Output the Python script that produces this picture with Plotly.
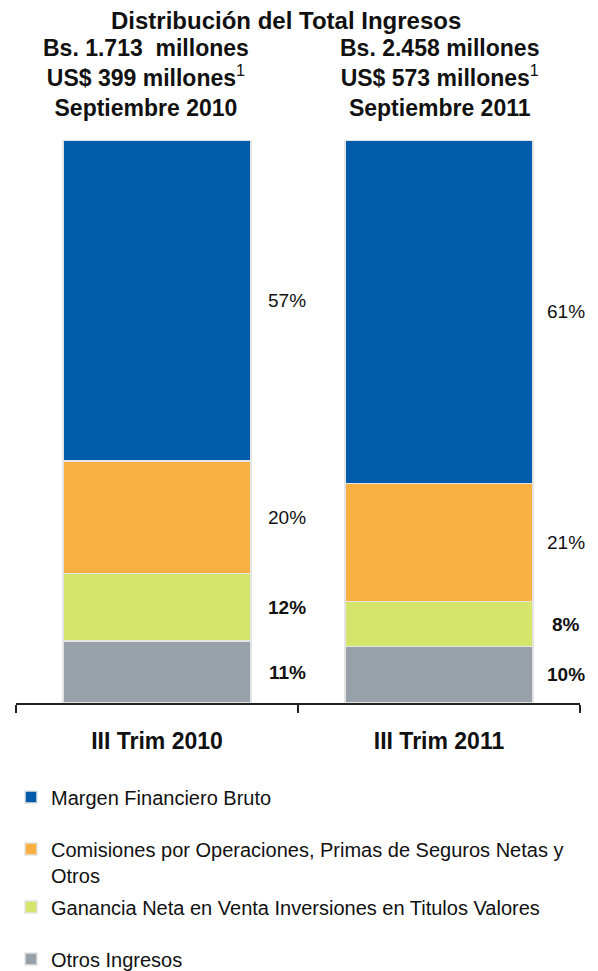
import plotly.graph_objects as go

categories = ["III Trim 2010", "III Trim 2011"]
series_names = [
    "Margen Financiero Bruto",
    "Comisiones por Operaciones, Primas de Seguros Netas y<br>Otros",
    "Ganancia Neta en Venta Inversiones en Titulos Valores",
    "Otros Ingresos",
]
margen = [57, 61]
comisiones = [20, 21]
ganancia = [12, 8]
otros = [11, 10]
header_lines = [
    ["Bs. 1.713  millones", "US$ 399 millones", "Septiembre 2010"],
    ["Bs. 2.458 millones", "US$ 573 millones", "Septiembre 2011"],
]
footnote_mark = "1"
title_text = "Distribución del Total Ingresos"

colors = ["#005BAA", "#F8B041", "#D5E46B", "#98A1A9"]
label_bold = [False, False, True, True]

FONT = "Liberation Sans, Arial, sans-serif"

# Page body has an 8px margin; the figure is sized and placed to compensate.
W, H = 590, 963
L, R, T, B = 8, 18, 132, 268
PW = W - L - R          # 564
PH = H - T - B          # 563


def px_x(px):           # page x -> paper x
    return (px - 16) / PW


def px_y(py):           # page y -> paper y
    return (703 - py) / PH


stack = [(otros, 3), (ganancia, 2), (comisiones, 1), (margen, 0)]
legend_ids = ["legend", "legend2", "legend3", "legend4"]

fig = go.Figure()
for vals, idx in stack:
    fig.add_trace(go.Bar(
        x=categories, y=vals, name=series_names[idx],
        marker=dict(color=colors[idx], line=dict(color="#e4e4e4", width=1.5)),
        legend=legend_ids[idx],
        hoverinfo="skip",
    ))

# value labels at segment midpoints
base = [0, 0]
for vals, idx in stack:
    for i, c in enumerate(categories):
        mid = base[i] + vals[i] / 2
        txt = f"{vals[i]}%"
        if label_bold[idx]:
            txt = f"<b>{txt}</b>"
        fig.add_annotation(
            x=c, y=mid, xref="x", yref="y", text=txt, showarrow=False,
            xshift=130 if i == 0 else 127,
            font=dict(family=FONT, size=19, color="#111"),
        )
    base = [base[i] + vals[i] for i in range(2)]

# header blocks
header_x = [146, 439]
for i in range(2):
    l1, l2, l3 = header_lines[i]
    txt = f"<b>{l1}</b><br><b>{l2}</b><sup>{footnote_mark}</sup><br><b>{l3}</b>"
    fig.add_annotation(
        x=px_x(header_x[i]), y=px_y(78), xref="paper", yref="paper",
        text=txt, showarrow=False, xanchor="center", yanchor="middle", align="center",
        font=dict(family=FONT, size=23, color="#111"),
    )

fig.add_annotation(
    x=px_x(286), y=px_y(20), xref="paper", yref="paper",
    text=f"<b>{title_text}</b>", showarrow=False, xanchor="center", yanchor="middle",
    font=dict(family=FONT, size=24, color="#111"),
)

legend_y = [797, 862, 907, 959]
legend_common = dict(
    x=px_x(11), xanchor="left", yanchor="middle",
    font=dict(family=FONT, size=20, color="#111"),
    bgcolor="rgba(0,0,0,0)", valign="top",
)
layout_legends = {}
for k, lid in enumerate(legend_ids):
    layout_legends[lid] = dict(legend_common, y=px_y(legend_y[k]))

fig.update_layout(
    width=W, height=H,
    margin=dict(l=L, r=R, t=T, b=B, autoexpand=False),
    barmode="stack", bargap=0.333,
    plot_bgcolor="white", paper_bgcolor="white",
    font=dict(family=FONT, size=16, color="#111"),
    showlegend=True,
    **layout_legends,
)
fig.update_xaxes(
    type="category", range=[-0.5, 1.5], tickson="boundaries",
    ticks="outside", ticklen=8, tickcolor="#222", tickwidth=1.5,
    showline=True, linecolor="#222", linewidth=1.5,
    tickfont=dict(family=FONT, size=23, color="#111"),
    ticktext=[f"<b>{c}</b>" for c in categories], tickvals=categories,
    ticklabelstandoff=17, showgrid=False,
)
fig.update_yaxes(range=[0, 100], visible=False, showgrid=False)

fig.write_html("out.html")
